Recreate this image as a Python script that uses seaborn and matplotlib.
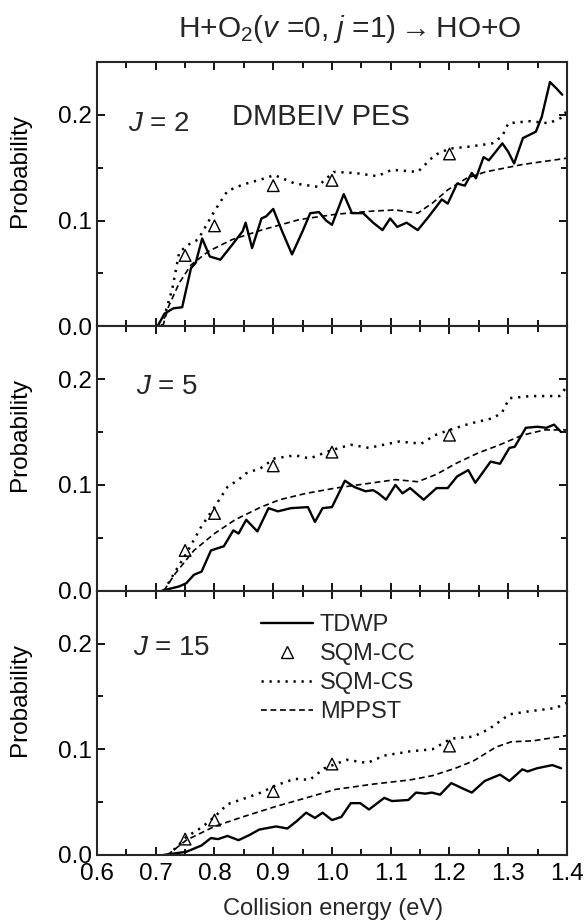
# Reaction probabilities for H+O2 -> HO+O at three J values
import numpy as np
import pandas as pd
import seaborn as sns
import matplotlib
matplotlib.use("Agg")
import matplotlib.pyplot as plt
from matplotlib.lines import Line2D
from matplotlib.ticker import MultipleLocator, FormatStrFormatter

# ---- data ----
cc_energy = [0.75, 0.8, 0.9, 1.0, 1.2]

# J = 2
tdwp_j2_x = [0.703, 0.715, 0.73, 0.745, 0.76, 0.768, 0.779, 0.792, 0.81, 0.83, 0.848, 0.853,
             0.864, 0.88, 0.888, 0.9, 0.915, 0.932, 0.95, 0.963, 0.978, 0.99, 1.0, 1.02, 1.034,
             1.053, 1.07, 1.086, 1.099, 1.111, 1.127, 1.146, 1.165, 1.187, 1.197, 1.213, 1.226,
             1.238, 1.245, 1.258, 1.267, 1.29, 1.3, 1.31, 1.325, 1.347, 1.357, 1.371, 1.382, 1.392]
tdwp_j2_y = [0.0, 0.012, 0.017, 0.018, 0.055, 0.06, 0.083, 0.066, 0.063, 0.077, 0.09, 0.098,
             0.074, 0.102, 0.104, 0.111, 0.09, 0.068, 0.09, 0.107, 0.108, 0.1, 0.096, 0.125, 0.107,
             0.107, 0.098, 0.091, 0.102, 0.094, 0.098, 0.091, 0.104, 0.12, 0.116, 0.135, 0.133,
             0.145, 0.14, 0.16, 0.157, 0.173, 0.165, 0.154, 0.178, 0.184, 0.198, 0.231, 0.225, 0.219]
cs_j2_x = [0.71, 0.718, 0.728, 0.74, 0.755, 0.772, 0.8, 0.822, 0.848, 0.88, 0.902, 0.937, 0.975,
           1.003, 1.039, 1.077, 1.102, 1.146, 1.175, 1.2, 1.235, 1.273, 1.29, 1.3, 1.337, 1.369,
           1.394, 1.4]
cs_j2_y = [0.0, 0.016, 0.035, 0.07, 0.077, 0.082, 0.109, 0.128, 0.134, 0.139, 0.143, 0.135, 0.132,
           0.146, 0.145, 0.142, 0.148, 0.146, 0.162, 0.168, 0.17, 0.173, 0.18, 0.192, 0.194, 0.192,
           0.198, 0.205]
mppst_j2_x = [0.712, 0.722, 0.74, 0.76, 0.79, 0.83, 0.88, 0.945, 1.007, 1.07, 1.108, 1.146, 1.172,
              1.197, 1.229, 1.261, 1.324, 1.4]
mppst_j2_y = [0.0, 0.019, 0.041, 0.058, 0.071, 0.082, 0.091, 0.101, 0.106, 0.109, 0.11, 0.107,
              0.117, 0.129, 0.14, 0.146, 0.153, 0.159]
cc_j2 = [0.067, 0.095, 0.133, 0.138, 0.163]

# J = 5
tdwp_j5_x = [0.711, 0.74, 0.752, 0.765, 0.778, 0.794, 0.816, 0.832, 0.841, 0.854, 0.873, 0.892,
             0.908, 0.93, 0.959, 0.971, 0.984, 1.0, 1.022, 1.038, 1.057, 1.07, 1.079, 1.092, 1.108,
             1.12, 1.133, 1.156, 1.178, 1.197, 1.213, 1.232, 1.244, 1.27, 1.286, 1.302, 1.311,
             1.33, 1.349, 1.365, 1.378, 1.39]
tdwp_j5_y = [0.0, 0.004, 0.007, 0.015, 0.018, 0.038, 0.042, 0.057, 0.054, 0.067, 0.056, 0.078,
             0.075, 0.078, 0.079, 0.065, 0.078, 0.079, 0.104, 0.098, 0.094, 0.095, 0.092, 0.086,
             0.1, 0.092, 0.097, 0.086, 0.097, 0.097, 0.108, 0.114, 0.102, 0.122, 0.12, 0.135,
             0.136, 0.154, 0.155, 0.154, 0.157, 0.15]
cs_j5_x = [0.714, 0.733, 0.752, 0.778, 0.8, 0.822, 0.841, 0.854, 0.879, 0.902, 0.937, 0.962, 1.0,
           1.032, 1.063, 1.114, 1.152, 1.175, 1.2, 1.235, 1.273, 1.289, 1.302, 1.337, 1.387, 1.4]
cs_j5_y = [0.0, 0.018, 0.035, 0.061, 0.079, 0.098, 0.105, 0.111, 0.116, 0.125, 0.128, 0.125,
           0.133, 0.138, 0.135, 0.141, 0.139, 0.147, 0.152, 0.158, 0.163, 0.168, 0.182, 0.184,
           0.184, 0.193]
mppst_j5_x = [0.714, 0.733, 0.765, 0.8, 0.835, 0.879, 0.911, 0.956, 1.006, 1.07, 1.108, 1.146,
              1.178, 1.21, 1.248, 1.286, 1.324, 1.362, 1.4]
mppst_j5_y = [0.0, 0.016, 0.038, 0.054, 0.067, 0.079, 0.086, 0.092, 0.097, 0.102, 0.105, 0.103,
              0.11, 0.12, 0.13, 0.138, 0.147, 0.152, 0.152]
cc_j5 = [0.038, 0.073, 0.118, 0.131, 0.147]

# J = 15
tdwp_j15_x = [0.713, 0.752, 0.778, 0.794, 0.806, 0.822, 0.841, 0.86, 0.876, 0.905, 0.924, 0.94,
              0.956, 0.971, 0.984, 1.0, 1.016, 1.032, 1.048, 1.063, 1.089, 1.102, 1.13, 1.143,
              1.159, 1.17, 1.184, 1.203, 1.222, 1.238, 1.26, 1.286, 1.302, 1.324, 1.333, 1.349,
              1.375, 1.39]
tdwp_j15_y = [0.0, 0.003, 0.009, 0.016, 0.015, 0.018, 0.014, 0.019, 0.024, 0.027, 0.025, 0.032,
              0.04, 0.035, 0.04, 0.033, 0.036, 0.049, 0.049, 0.043, 0.054, 0.051, 0.052, 0.059,
              0.058, 0.059, 0.057, 0.068, 0.063, 0.059, 0.07, 0.076, 0.07, 0.081, 0.079, 0.082,
              0.085, 0.082]
cs_j15_x = [0.72, 0.733, 0.752, 0.778, 0.8, 0.822, 0.854, 0.879, 0.905, 0.937, 0.962, 0.987,
            1.025, 1.06, 1.089, 1.133, 1.171, 1.203, 1.241, 1.267, 1.302, 1.337, 1.381, 1.4]
cs_j15_y = [0.0, 0.006, 0.017, 0.026, 0.036, 0.048, 0.054, 0.059, 0.066, 0.072, 0.071, 0.082,
            0.09, 0.087, 0.094, 0.098, 0.1, 0.11, 0.112, 0.119, 0.133, 0.136, 0.139, 0.144]
mppst_j15_x = [0.72, 0.752, 0.8, 0.848, 0.905, 0.956, 1.006, 1.07, 1.133, 1.171, 1.21, 1.241,
               1.279, 1.305, 1.343, 1.4]
mppst_j15_y = [0.0, 0.014, 0.027, 0.036, 0.046, 0.054, 0.062, 0.067, 0.071, 0.075, 0.082, 0.089,
               0.102, 0.107, 0.108, 0.113]
cc_j15 = [0.015, 0.033, 0.06, 0.086, 0.103]

panel_labels = ["$J$ = 2", "$J$ = 5", "$J$ = 15"]

panels = [
    (tdwp_j2_x, tdwp_j2_y, cs_j2_x, cs_j2_y, mppst_j2_x, mppst_j2_y, cc_j2),
    (tdwp_j5_x, tdwp_j5_y, cs_j5_x, cs_j5_y, mppst_j5_x, mppst_j5_y, cc_j5),
    (tdwp_j15_x, tdwp_j15_y, cs_j15_x, cs_j15_y, mppst_j15_x, mppst_j15_y, cc_j15),
]

# ---- style ----
sns.set_theme(style="ticks")
plt.rcParams["font.family"] = ["Liberation Sans", "DejaVu Sans"]
plt.rcParams["mathtext.fontset"] = "custom"
plt.rcParams["mathtext.rm"] = "Liberation Sans"
plt.rcParams["mathtext.it"] = "Liberation Sans:italic"
plt.rcParams["axes.linewidth"] = 1.5

dotted = (0, (0.9, 2.3))
dashed = (0, (3.5, 2.2))

fig = plt.figure(figsize=(5.85, 9.22), dpi=100)
left, width = 0.1658, 0.8034
bottom, top = 0.0727, 0.9328
h = (top - bottom) / 3

label_pos = [(0.653, 0.1915), (0.666, 0.1925), (0.661, 0.196)]

for i, (tx, ty, sx, sy, mx, my, cc) in enumerate(panels):
    ax = fig.add_axes([left, top - (i + 1) * h, width, h])
    sns.lineplot(x=tx, y=ty, ax=ax, color="black", lw=1.7, sort=False)
    sns.lineplot(x=sx, y=sy, ax=ax, color="black", lw=1.8, linestyle=dotted, sort=False)
    sns.lineplot(x=mx, y=my, ax=ax, color="black", lw=1.2, linestyle=dashed, sort=False)
    sns.scatterplot(x=cc_energy, y=cc, ax=ax, marker="^", s=70,
                    facecolor="none", edgecolor="black", linewidth=1.0, zorder=5)

    ax.set_xlim(0.6, 1.4)
    ax.set_ylim(0.0, 0.25)
    ax.xaxis.set_major_locator(MultipleLocator(0.1))
    ax.xaxis.set_minor_locator(MultipleLocator(0.05))
    ax.yaxis.set_major_locator(MultipleLocator(0.1))
    ax.yaxis.set_minor_locator(MultipleLocator(0.05))
    ax.xaxis.set_major_formatter(FormatStrFormatter("%.1f"))
    ax.yaxis.set_major_formatter(FormatStrFormatter("%.1f"))
    ax.tick_params(which="both", direction="in", top=True, right=True, width=1.3,
                   labelsize=17.5, colors="black")
    ax.tick_params(which="major", length=6)
    ax.tick_params(which="minor", length=4)
    ax.tick_params(axis="x", pad=6)
    ax.tick_params(axis="y", pad=3.5)
    if i < 2:
        ax.tick_params(axis="x", labelbottom=False)
    ax.set_ylabel("Probability", fontsize=17.5, color="black")
    ax.yaxis.set_label_coords(-0.14, 0.59)
    ax.set_xlabel("")

    lx, ly = label_pos[i]
    ax.text(lx, ly, panel_labels[i], fontsize=20, va="center", ha="left")

    if i == 0:
        ax.text(0.83, 0.198, "DMBEIV PES", fontsize=21, va="center", ha="left")
    if i == 2:
        handles = [
            Line2D([], [], color="black", lw=1.7),
            Line2D([], [], color="black", ls="none", marker="^", ms=8.5,
                   mfc="none", mec="black", mew=1.0),
            Line2D([], [], color="black", lw=1.8, ls=dotted),
            Line2D([], [], color="black", lw=1.2, ls=dashed),
        ]
        ax.legend(handles, ["TDWP", "SQM-CC", "SQM-CS", "MPPST"],
                  loc="upper left", bbox_to_anchor=(0.879, 0.228),
                  bbox_transform=ax.transData, frameon=False, fontsize=17,
                  handlelength=2.2, handletextpad=0.3, labelspacing=0.3,
                  borderpad=0, borderaxespad=0)

fig.text(0.598, 0.960, "H+O$_2$($v$ =0, $j$ =1)$\\rightarrow$HO+O", fontsize=21.5,
         ha="center", va="baseline")
fig.text(0.569, 0.0076, "Collision energy (eV)", fontsize=17,
         ha="center", va="baseline")

fig.savefig("out.png", dpi=100, facecolor="white")
